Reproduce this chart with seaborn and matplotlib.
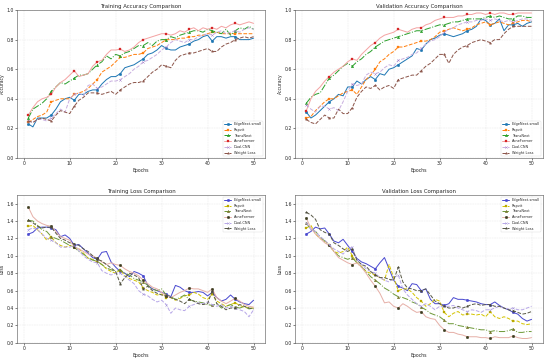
import numpy as np
import pandas as pd
import matplotlib
matplotlib.use("Agg")
import matplotlib.pyplot as plt
import seaborn as sns

# epochs 1..50
epochs = list(range(1, 51))
models = ["EdgeNext-small", "Repvit", "TransNext", "AcneFormer", "Dual-CNN", "Weight Loss"]

# --- Training accuracy ---
train_acc_edgenext = [0.23, 0.21, 0.27, 0.27, 0.27, 0.29, 0.33, 0.38, 0.40, 0.41,
                      0.39, 0.43, 0.43, 0.45, 0.46, 0.46, 0.50, 0.53, 0.55, 0.55,
                      0.57, 0.61, 0.62, 0.63, 0.65, 0.67, 0.70, 0.71, 0.73, 0.76,
                      0.74, 0.73, 0.73, 0.75, 0.76, 0.77, 0.79, 0.80, 0.82, 0.83,
                      0.79, 0.82, 0.82, 0.81, 0.82, 0.82, 0.80, 0.80, 0.80, 0.81]
train_acc_repvit = [0.24, 0.26, 0.28, 0.29, 0.31, 0.38, 0.39, 0.40, 0.40, 0.40,
                    0.43, 0.44, 0.45, 0.47, 0.50, 0.53, 0.58, 0.60, 0.62, 0.65,
                    0.68, 0.68, 0.69, 0.70, 0.70, 0.71, 0.74, 0.75, 0.76, 0.78,
                    0.80, 0.80, 0.80, 0.81, 0.81, 0.82, 0.82, 0.83, 0.83, 0.84,
                    0.85, 0.85, 0.84, 0.84, 0.84, 0.84, 0.84, 0.84, 0.84, 0.84]
train_acc_transnext = [0.27, 0.33, 0.35, 0.37, 0.40, 0.45, 0.48, 0.51, 0.50, 0.52,
                       0.54, 0.56, 0.56, 0.57, 0.60, 0.63, 0.65, 0.69, 0.67, 0.70,
                       0.69, 0.71, 0.72, 0.74, 0.76, 0.76, 0.78, 0.76, 0.79, 0.80,
                       0.80, 0.82, 0.81, 0.83, 0.84, 0.85, 0.86, 0.86, 0.85, 0.87,
                       0.86, 0.85, 0.84, 0.87, 0.83, 0.86, 0.88, 0.87, 0.89, 0.87]
train_acc_acneformer = [0.29, 0.34, 0.38, 0.40, 0.41, 0.43, 0.48, 0.51, 0.53, 0.56,
                        0.59, 0.55, 0.56, 0.57, 0.62, 0.65, 0.66, 0.70, 0.73, 0.73,
                        0.735, 0.72, 0.73, 0.75, 0.78, 0.80, 0.81, 0.82, 0.83, 0.84,
                        0.84, 0.83, 0.84, 0.86, 0.85, 0.87, 0.88, 0.86, 0.88, 0.87,
                        0.88, 0.87, 0.89, 0.88, 0.90, 0.91, 0.90, 0.91, 0.92, 0.91]
train_acc_dualcnn = [0.25, 0.24, 0.26, 0.26, 0.25, 0.27, 0.30, 0.33, 0.31, 0.40,
                     0.43, 0.44, 0.42, 0.49, 0.50, 0.47, 0.48, 0.50, 0.52, 0.52,
                     0.53, 0.55, 0.57, 0.60, 0.62, 0.65, 0.66, 0.68, 0.70, 0.73,
                     0.75, 0.78, 0.80, 0.79, 0.78, 0.80, 0.80, 0.82, 0.83, 0.84,
                     0.83, 0.85, 0.86, 0.84, 0.85, 0.86, 0.85, 0.87, 0.88, 0.87]
train_acc_weightloss = [0.25, 0.24, 0.26, 0.27, 0.26, 0.25, 0.29, 0.32, 0.31, 0.30,
                        0.35, 0.39, 0.41, 0.44, 0.44, 0.44, 0.43, 0.44, 0.45, 0.43,
                        0.46, 0.48, 0.50, 0.51, 0.51, 0.52, 0.55, 0.58, 0.60, 0.63,
                        0.62, 0.61, 0.66, 0.69, 0.70, 0.71, 0.71, 0.72, 0.73, 0.74,
                        0.72, 0.72, 0.75, 0.77, 0.78, 0.80, 0.81, 0.82, 0.81, 0.82]

# --- Validation accuracy ---
val_acc_edgenext = [0.31, 0.27, 0.29, 0.32, 0.35, 0.38, 0.40, 0.43, 0.42, 0.48,
                    0.48, 0.52, 0.50, 0.53, 0.55, 0.53, 0.57, 0.56, 0.60, 0.61,
                    0.63, 0.65, 0.67, 0.69, 0.74, 0.73, 0.77, 0.80, 0.81, 0.83,
                    0.84, 0.83, 0.82, 0.83, 0.84, 0.86, 0.87, 0.89, 0.94, 0.93,
                    0.90, 0.91, 0.94, 0.86, 0.90, 0.90, 0.91, 0.89, 0.91, 0.92]
val_acc_repvit = [0.27, 0.28, 0.32, 0.35, 0.38, 0.40, 0.40, 0.42, 0.44, 0.45,
                  0.46, 0.43, 0.48, 0.53, 0.56, 0.60, 0.65, 0.67, 0.70, 0.72,
                  0.75, 0.75, 0.76, 0.77, 0.78, 0.79, 0.79, 0.80, 0.82, 0.85,
                  0.86, 0.87, 0.88, 0.87, 0.86, 0.87, 0.88, 0.90, 0.91, 0.92,
                  0.90, 0.91, 0.92, 0.91, 0.90, 0.91, 0.92, 0.93, 0.93, 0.92]
val_acc_transnext = [0.37, 0.41, 0.43, 0.44, 0.49, 0.54, 0.56, 0.59, 0.62, 0.64,
                     0.62, 0.65, 0.67, 0.70, 0.72, 0.75, 0.77, 0.79, 0.80, 0.81,
                     0.82, 0.83, 0.84, 0.85, 0.86, 0.86, 0.87, 0.88, 0.89, 0.90,
                     0.90, 0.91, 0.92, 0.92, 0.93, 0.94, 0.94, 0.94, 0.94, 0.95,
                     0.96, 0.95, 0.96, 0.95, 0.94, 0.94, 0.96, 0.96, 0.95, 0.95]
val_acc_acneformer = [0.32, 0.40, 0.45, 0.48, 0.52, 0.55, 0.58, 0.60, 0.62, 0.65,
                      0.67, 0.66, 0.70, 0.73, 0.76, 0.78, 0.81, 0.83, 0.84, 0.85,
                      0.87, 0.86, 0.85, 0.87, 0.88, 0.88, 0.90, 0.91, 0.93, 0.94,
                      0.95, 0.95, 0.95, 0.96, 0.96, 0.97, 0.97, 0.98, 0.98, 0.97,
                      0.98, 0.97, 0.98, 0.98, 0.97, 0.97, 0.98, 0.98, 0.98, 0.98]
val_acc_dualcnn = [0.36, 0.33, 0.31, 0.35, 0.35, 0.33, 0.34, 0.32, 0.38, 0.45,
                   0.50, 0.49, 0.50, 0.56, 0.58, 0.57, 0.58, 0.61, 0.63, 0.62,
                   0.66, 0.67, 0.68, 0.70, 0.71, 0.74, 0.77, 0.79, 0.80, 0.82,
                   0.85, 0.87, 0.88, 0.90, 0.91, 0.92, 0.92, 0.93, 0.93, 0.94,
                   0.93, 0.94, 0.93, 0.92, 0.93, 0.92, 0.93, 0.94, 0.94, 0.93]
val_acc_weightloss = [0.26, 0.24, 0.23, 0.26, 0.29, 0.27, 0.27, 0.33, 0.30, 0.30,
                      0.34, 0.41, 0.45, 0.48, 0.47, 0.49, 0.46, 0.48, 0.49, 0.47,
                      0.53, 0.54, 0.55, 0.56, 0.56, 0.59, 0.62, 0.64, 0.67, 0.70,
                      0.70, 0.64, 0.70, 0.73, 0.75, 0.76, 0.78, 0.79, 0.80, 0.79,
                      0.78, 0.80, 0.80, 0.84, 0.87, 0.89, 0.89, 0.89, 0.89, 0.89]

# --- Training loss ---
train_loss_edgenext = [1.25, 1.27, 1.32, 1.33, 1.33, 1.32, 1.30, 1.22, 1.24, 1.20,
                       1.12, 1.13, 1.08, 1.03, 0.98, 0.96, 1.04, 1.05, 0.93, 0.87,
                       0.82, 0.80, 0.76, 0.82, 0.80, 0.77, 0.66, 0.62, 0.60, 0.58,
                       0.56, 0.53, 0.66, 0.64, 0.60, 0.58, 0.58, 0.59, 0.58, 0.54,
                       0.58, 0.52, 0.48, 0.50, 0.55, 0.50, 0.47, 0.45, 0.44, 0.49]
train_loss_repvit = [1.34, 1.35, 1.30, 1.25, 1.18, 1.22, 1.15, 1.12, 1.10, 1.12,
                     1.10, 1.08, 1.03, 0.97, 0.96, 0.93, 0.90, 0.85, 0.82, 0.80,
                     0.84, 0.77, 0.74, 0.72, 0.70, 0.63, 0.60, 0.58, 0.55, 0.56,
                     0.52, 0.52, 0.49, 0.51, 0.54, 0.55, 0.58, 0.56, 0.52, 0.50,
                     0.56, 0.48, 0.45, 0.42, 0.44, 0.46, 0.43, 0.41, 0.40, 0.40]
train_loss_transnext = [1.41, 1.40, 1.35, 1.30, 1.28, 1.22, 1.20, 1.18, 1.15, 1.12,
                        1.10, 1.05, 1.02, 0.98, 0.95, 0.94, 0.90, 0.86, 0.84, 0.82,
                        0.84, 0.80, 0.78, 0.74, 0.72, 0.70, 0.66, 0.62, 0.60, 0.62,
                        0.55, 0.53, 0.50, 0.52, 0.55, 0.50, 0.48, 0.47, 0.46, 0.44,
                        0.43, 0.45, 0.40, 0.42, 0.44, 0.41, 0.40, 0.42, 0.39, 0.40]
train_loss_acneformer = [1.56, 1.45, 1.40, 1.37, 1.35, 1.34, 1.28, 1.22, 1.20, 1.18,
                         1.10, 1.08, 1.05, 1.02, 1.00, 0.97, 0.93, 0.90, 0.92, 0.90,
                         0.89, 0.85, 0.82, 0.80, 0.77, 0.72, 0.68, 0.64, 0.62, 0.58,
                         0.54, 0.52, 0.55, 0.58, 0.60, 0.63, 0.62, 0.62, 0.60, 0.58,
                         0.62, 0.52, 0.48, 0.45, 0.48, 0.51, 0.48, 0.44, 0.42, 0.41]
train_loss_dualcnn = [1.30, 1.32, 1.30, 1.25, 1.20, 1.18, 1.15, 1.10, 1.10, 1.10,
                      1.12, 1.06, 1.00, 0.96, 0.93, 0.92, 0.83, 0.80, 0.78, 0.80,
                      0.80, 0.76, 0.72, 0.68, 0.60, 0.56, 0.54, 0.50, 0.47, 0.49,
                      0.44, 0.34, 0.40, 0.38, 0.37, 0.42, 0.44, 0.46, 0.45, 0.47,
                      0.44, 0.42, 0.44, 0.40, 0.42, 0.40, 0.38, 0.36, 0.30, 0.38]
train_loss_weightloss = [1.41, 1.38, 1.34, 1.32, 1.33, 1.33, 1.26, 1.20, 1.18, 1.15,
                         1.14, 1.12, 1.08, 1.05, 1.00, 0.96, 0.94, 0.90, 0.86, 0.82,
                         0.68, 0.75, 0.80, 0.78, 0.75, 0.62, 0.65, 0.60, 0.57, 0.55,
                         0.54, 0.52, 0.50, 0.48, 0.45, 0.50, 0.48, 0.45, 0.44, 0.45,
                         0.60, 0.45, 0.42, 0.38, 0.40, 0.40, 0.44, 0.42, 0.40, 0.39]

# --- Validation loss ---
val_loss_edgenext = [1.25, 1.28, 1.33, 1.31, 1.32, 1.25, 1.17, 1.15, 1.19, 1.12,
                     1.05, 0.97, 0.93, 0.91, 0.88, 0.85, 0.92, 0.98, 0.85, 0.72,
                     0.65, 0.63, 0.60, 0.68, 0.67, 0.60, 0.62, 0.50, 0.45, 0.45,
                     0.43, 0.45, 0.52, 0.50, 0.50, 0.49, 0.48, 0.47, 0.45, 0.44,
                     0.44, 0.47, 0.43, 0.40, 0.38, 0.35, 0.33, 0.28, 0.25, 0.27]
val_loss_repvit = [1.32, 1.35, 1.25, 1.20, 1.17, 1.13, 1.05, 1.03, 1.05, 1.10,
                   1.00, 0.92, 0.88, 0.82, 0.80, 0.78, 0.75, 0.72, 0.90, 0.75,
                   0.60, 0.62, 0.62, 0.58, 0.52, 0.48, 0.42, 0.45, 0.50, 0.48,
                   0.35, 0.30, 0.34, 0.36, 0.32, 0.33, 0.33, 0.32, 0.33, 0.30,
                   0.36, 0.30, 0.28, 0.30, 0.28, 0.25, 0.25, 0.22, 0.21, 0.22]
val_loss_transnext = [1.38, 1.30, 1.28, 1.22, 1.17, 1.12, 1.05, 1.00, 0.98, 0.96,
                      0.98, 0.92, 0.87, 0.82, 0.76, 0.72, 0.68, 0.63, 0.60, 0.56,
                      0.53, 0.52, 0.50, 0.47, 0.45, 0.41, 0.38, 0.34, 0.32, 0.30,
                      0.26, 0.22, 0.22, 0.20, 0.19, 0.18, 0.17, 0.16, 0.15, 0.15,
                      0.13, 0.14, 0.13, 0.13, 0.14, 0.16, 0.12, 0.12, 0.13, 0.13]
val_loss_acneformer = [1.43, 1.32, 1.25, 1.20, 1.15, 1.12, 1.05, 0.98, 0.95, 0.92,
                       0.90, 0.92, 0.87, 0.80, 0.72, 0.65, 0.57, 0.46, 0.47, 0.42,
                       0.40, 0.45, 0.42, 0.38, 0.35, 0.36, 0.30, 0.28, 0.27, 0.20,
                       0.15, 0.12, 0.12, 0.10, 0.09, 0.07, 0.07, 0.07, 0.06, 0.06,
                       0.05, 0.07, 0.06, 0.06, 0.06, 0.08, 0.06, 0.05, 0.05, 0.06]
val_loss_dualcnn = [1.38, 1.30, 1.28, 1.22, 1.18, 1.13, 1.08, 1.05, 1.02, 1.08,
                    1.10, 0.95, 0.90, 0.85, 0.82, 0.80, 0.75, 0.72, 0.70, 0.75,
                    0.78, 0.62, 0.55, 0.50, 0.45, 0.42, 0.45, 0.42, 0.38, 0.42,
                    0.42, 0.42, 0.43, 0.40, 0.38, 0.36, 0.38, 0.37, 0.35, 0.38,
                    0.38, 0.40, 0.42, 0.40, 0.39, 0.40, 0.38, 0.38, 0.40, 0.42]
val_loss_weightloss = [1.50, 1.47, 1.42, 1.30, 1.27, 1.25, 1.15, 1.12, 1.08, 1.05,
                       1.08, 0.95, 0.90, 0.88, 0.82, 0.78, 0.75, 0.75, 0.73, 0.72,
                       0.87, 0.70, 0.63, 0.62, 0.60, 0.60, 0.62, 0.55, 0.48, 0.45,
                       0.42, 0.40, 0.40, 0.42, 0.40, 0.42, 0.44, 0.45, 0.43, 0.44,
                       0.44, 0.42, 0.42, 0.40, 0.38, 0.37, 0.35, 0.33, 0.34, 0.36]

# style per model: (line colour, marker colour, linestyle, marker)
acc_styles = [
    ("#1f77b4", "#1f77b4", "-", "o"),
    ("#ff7f0e", "#ff7f0e", "--", "s"),
    ("#2ca02c", "#2ca02c", "-.", "^"),
    ("#f4a3a3", "#d62728", "-", "s"),
    ("#c9b0e0", "#9467bd", "--", "x"),
    ("#8c564b", "#8c564b", "--", "*"),
]
loss_styles = [
    ("#4a4ad0", "#4a4ad0", "-", "o"),
    ("#d4c400", "#b8a800", "--", "s"),
    ("#6f9a3a", "#7a7a30", "-.", "^"),
    ("#e6b0a8", "#3d3d20", "-", "o"),
    ("#b8a8e8", "#9a8ad0", "--", "x"),
    ("#5a5a48", "#4a4a3a", "--", "*"),
]

panels = [
    ("Training Accuracy Comparison", "Accuracy",
     [train_acc_edgenext, train_acc_repvit, train_acc_transnext,
      train_acc_acneformer, train_acc_dualcnn, train_acc_weightloss],
     acc_styles, (0, 1.0), "lower right"),
    ("Validation Accuracy Comparison", "Accuracy",
     [val_acc_edgenext, val_acc_repvit, val_acc_transnext,
      val_acc_acneformer, val_acc_dualcnn, val_acc_weightloss],
     acc_styles, (0, 1.0), "lower right"),
    ("Training Loss Comparison", "Loss",
     [train_loss_edgenext, train_loss_repvit, train_loss_transnext,
      train_loss_acneformer, train_loss_dualcnn, train_loss_weightloss],
     loss_styles, (0, 1.7), "upper right"),
    ("Validation Loss Comparison", "Loss",
     [val_loss_edgenext, val_loss_repvit, val_loss_transnext,
      val_loss_acneformer, val_loss_dualcnn, val_loss_weightloss],
     loss_styles, (0, 1.7), "upper right"),
]

sns.set_style("ticks")
plt.rcParams['font.family'] = ['DejaVu Sans']

fig, axes = plt.subplots(2, 2, figsize=(20, 13.055))
fig.subplots_adjust(left=0.031, right=0.987, top=0.972, bottom=0.045,
                    wspace=0.122, hspace=0.25)

for ax, (title, ylabel, series, styles, ylim, loc) in zip(axes.flat, panels):
    for name, vals, (lc, mc, ls, mk) in zip(models, series, styles):
        sns.lineplot(x=epochs, y=vals, ax=ax, color=lc, linestyle=ls, linewidth=2.6,
                     marker=mk, markevery=5, markersize=7,
                     markerfacecolor=mc, markeredgecolor=mc, label=name)
    ax.set_title(title, fontsize=14)
    ax.set_xlabel("Epochs", fontsize=12)
    ax.set_ylabel(ylabel, fontsize=12)
    ax.set_ylim(*ylim)
    ax.tick_params(labelsize=12, width=1.5, length=5)
    ax.grid(True, linestyle='--', alpha=0.5, linewidth=1.2)
    for s in ax.spines.values():
        s.set_color("#555555")
        s.set_linewidth(1.5)
    ax.legend(loc=loc, fontsize=9, frameon=True)

fig.savefig("out.png", dpi=27.5)
